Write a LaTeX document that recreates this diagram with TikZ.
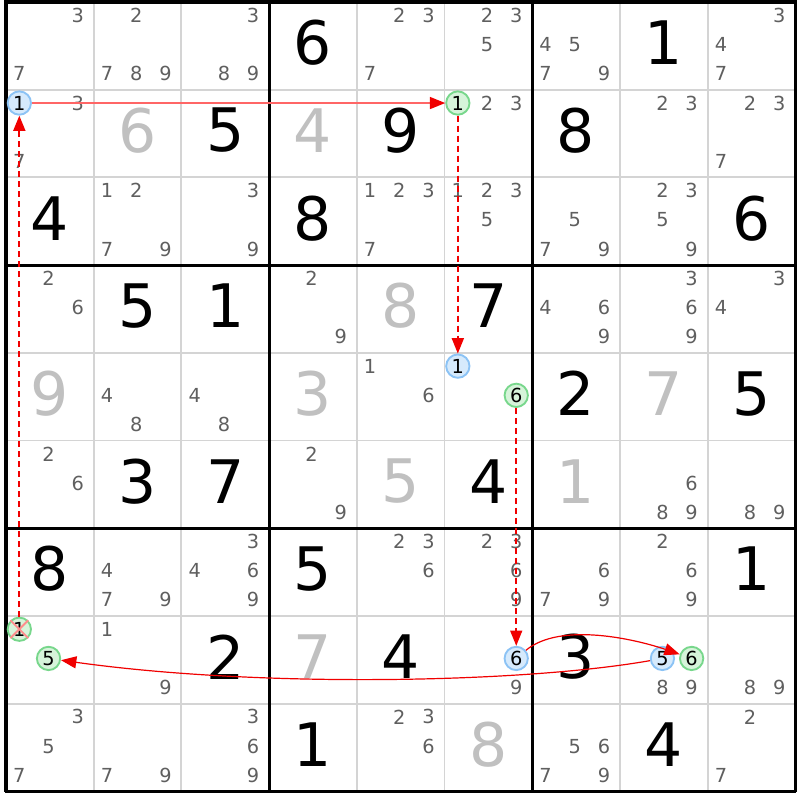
\documentclass[tikz,border=0pt]{standalone}
\usepackage{fontspec}
\setmainfont{DejaVu Sans}
\usetikzlibrary{arrows.meta}

\definecolor{candgray}{RGB}{95,95,95}
\definecolor{solvedgray}{RGB}{192,192,192}
\definecolor{gridgray}{RGB}{212,212,212}
\definecolor{onblue}{RGB}{214,234,252}
\definecolor{onblueline}{RGB}{140,195,245}
\definecolor{ongreen}{RGB}{214,244,218}
\definecolor{ongreenline}{RGB}{120,215,140}
\definecolor{linkred}{RGB}{240,0,0}

\tikzset{
  given/.style={font=\fontsize{45}{45}\selectfont, inner sep=0pt},
  solved/.style={given, text=solvedgray},
  cand/.style={font=\fontsize{14.5}{14.5}\selectfont, text=candgray, inner sep=0pt},
  bluecand/.style={circle, draw=onblueline, fill=onblue, line width=1.4pt, minimum size=17.5pt, inner sep=0pt, font=\fontsize{14.5}{14.5}\selectfont},
  greencand/.style={bluecand, draw=ongreenline, fill=ongreen},
  link/.style={draw=linkred, line width=0.9pt, -{Triangle[length=11.5pt,width=9pt,color=linkred]}},
  weak/.style={link, line width=1.2pt, dash pattern=on 4.5pt off 3pt},
}

\def\cs{87.7}
% row, column, digit -> \px, \py
\newcommand{\candxy}[3]{%
  \pgfmathsetmacro\px{6+(#2-1)*\cs+(0.152+0.333*mod(#3-1,3))*\cs}%
  \pgfmathsetmacro\py{-2-(#1-1)*\cs-(0.152+0.333*floor((#3-1)/3))*\cs}}

\begin{document}
\begin{tikzpicture}[x=0.75pt, y=0.75pt]
    \fill[white] (0,0) rectangle (800,-800);
    \useasboundingbox (0,0) rectangle (800,-800);

    % grid
    \foreach \i in {0,...,9} {
        \draw[gridgray, line width=1.4pt] ({6+\i*\cs}, -2) -- ({6+\i*\cs}, {-2-9*\cs});
        \draw[gridgray, line width=1.4pt] (6, {-2-\i*\cs}) -- ({6+9*\cs}, {-2-\i*\cs});
    }
    \foreach \i in {0,3,6,9} {
        \draw[black, line width=2.3pt] ({6+\i*\cs}, 0.9) -- ({6+\i*\cs}, {-2-9*\cs-1.1});
        \draw[black, line width=2.3pt] (4.9, {-2-\i*\cs}) -- ({6+9*\cs+1.1}, {-2-\i*\cs});
    }

    % givens and solved cells
    \foreach \r/\c/\v in {1/4/6, 1/8/1, 2/3/5, 2/5/9, 2/7/8, 3/1/4, 3/4/8, 3/9/6, 4/2/5, 4/3/1,
                          4/6/7, 5/7/2, 5/9/5, 6/2/3, 6/3/7, 6/6/4, 7/1/8, 7/4/5, 7/9/1, 8/3/2,
                          8/5/4, 8/7/3, 9/4/1, 9/8/4}
        \node[given] (n-\r-\c) at ({6+(\c-0.5)*\cs}, {-2-(\r-0.5)*\cs+3}) {\v};
    \foreach \r/\c/\v in {2/2/6, 2/4/4, 4/5/8, 5/1/9, 5/4/3, 5/8/7, 6/5/5, 6/7/1, 8/4/7, 9/6/8}
        \node[solved] (n-\r-\c) at ({6+(\c-0.5)*\cs}, {-2-(\r-0.5)*\cs+3}) {\v};

    % candidates
    \foreach \r/\c/\ds in {1/1/{3,7}, 1/2/{2,7,8,9}, 1/3/{3,8,9}, 1/5/{2,3,7}, 1/6/{2,3,5},
                           1/7/{4,5,7,9}, 1/9/{3,4,7}, 2/1/{3,7}, 2/6/{2,3}, 2/8/{2,3}, 2/9/{2,3,7},
                           3/2/{1,2,7,9}, 3/3/{3,9}, 3/5/{1,2,3,7}, 3/6/{1,2,3,5}, 3/7/{5,7,9},
                           3/8/{2,3,5,9}, 4/1/{2,6}, 4/4/{2,9}, 4/7/{4,6,9}, 4/8/{3,6,9}, 4/9/{3,4},
                           5/2/{4,8}, 5/3/{4,8}, 5/5/{1,6}, 6/1/{2,6}, 6/4/{2,9}, 6/8/{6,8,9},
                           6/9/{8,9}, 7/2/{4,7,9}, 7/3/{3,4,6,9}, 7/5/{2,3,6}, 7/6/{2,3,6,9},
                           7/7/{6,7,9}, 7/8/{2,6,9}, 8/2/{1,9}, 8/6/{9}, 8/8/{8,9}, 8/9/{8,9},
                           9/1/{3,5,7}, 9/2/{7,9}, 9/3/{3,6,9}, 9/5/{2,3,6}, 9/7/{5,6,7,9}, 9/9/{2,7}}
        \foreach \d in \ds {
            \candxy{\r}{\c}{\d}
            \node[cand] (k-\r-\c-\d) at (\px,\py) {\d};
        }

    % chain candidates
    \candxy{2}{1}{1} \node[bluecand] (b-2-1) at (\px,\py) {1};
    \candxy{2}{6}{1} \node[greencand] (g-2-6) at (\px,\py) {1};
    \candxy{5}{6}{1} \node[bluecand] (b-5-6) at (\px,\py) {1};
    \candxy{5}{6}{6} \node[greencand] (g-5-6) at (\px,\py) {6};
    \candxy{8}{6}{6} \node[bluecand] (b-8-6) at (\px,\py) {6};
    \candxy{8}{8}{5} \node[bluecand] (b-8-8) at (\px,\py) {5};
    \candxy{8}{8}{6} \node[greencand] (g-8-8) at (\px,\py) {6};
    \candxy{8}{1}{5} \node[greencand] (g-8-1) at (\px,\py) {5};
    \candxy{8}{1}{1} \node[greencand] (x-8-1) at (\px,\py) {1};
    \draw[red!45, line width=1.4pt] (x-8-1.north west) -- (x-8-1.south east);
    \draw[red!45, line width=1.4pt] (x-8-1.south west) -- (x-8-1.north east);

    % links
    \draw[link, draw=red!60, line width=1.1pt] (b-2-1) -- (g-2-6);
    \draw[weak] (g-2-6) -- (b-5-6);
    \draw[weak] (g-5-6) -- (b-8-6);
    \draw[link] (b-8-6) to[out=40, in=161, looseness=0.75] (g-8-8);
    \draw[link] (b-8-8) to[out=190, in=-8, out distance=97pt, in distance=150pt] (g-8-1);
    \draw[weak, line width=1.5pt] (x-8-1) -- (b-2-1);
\end{tikzpicture}
\end{document}
